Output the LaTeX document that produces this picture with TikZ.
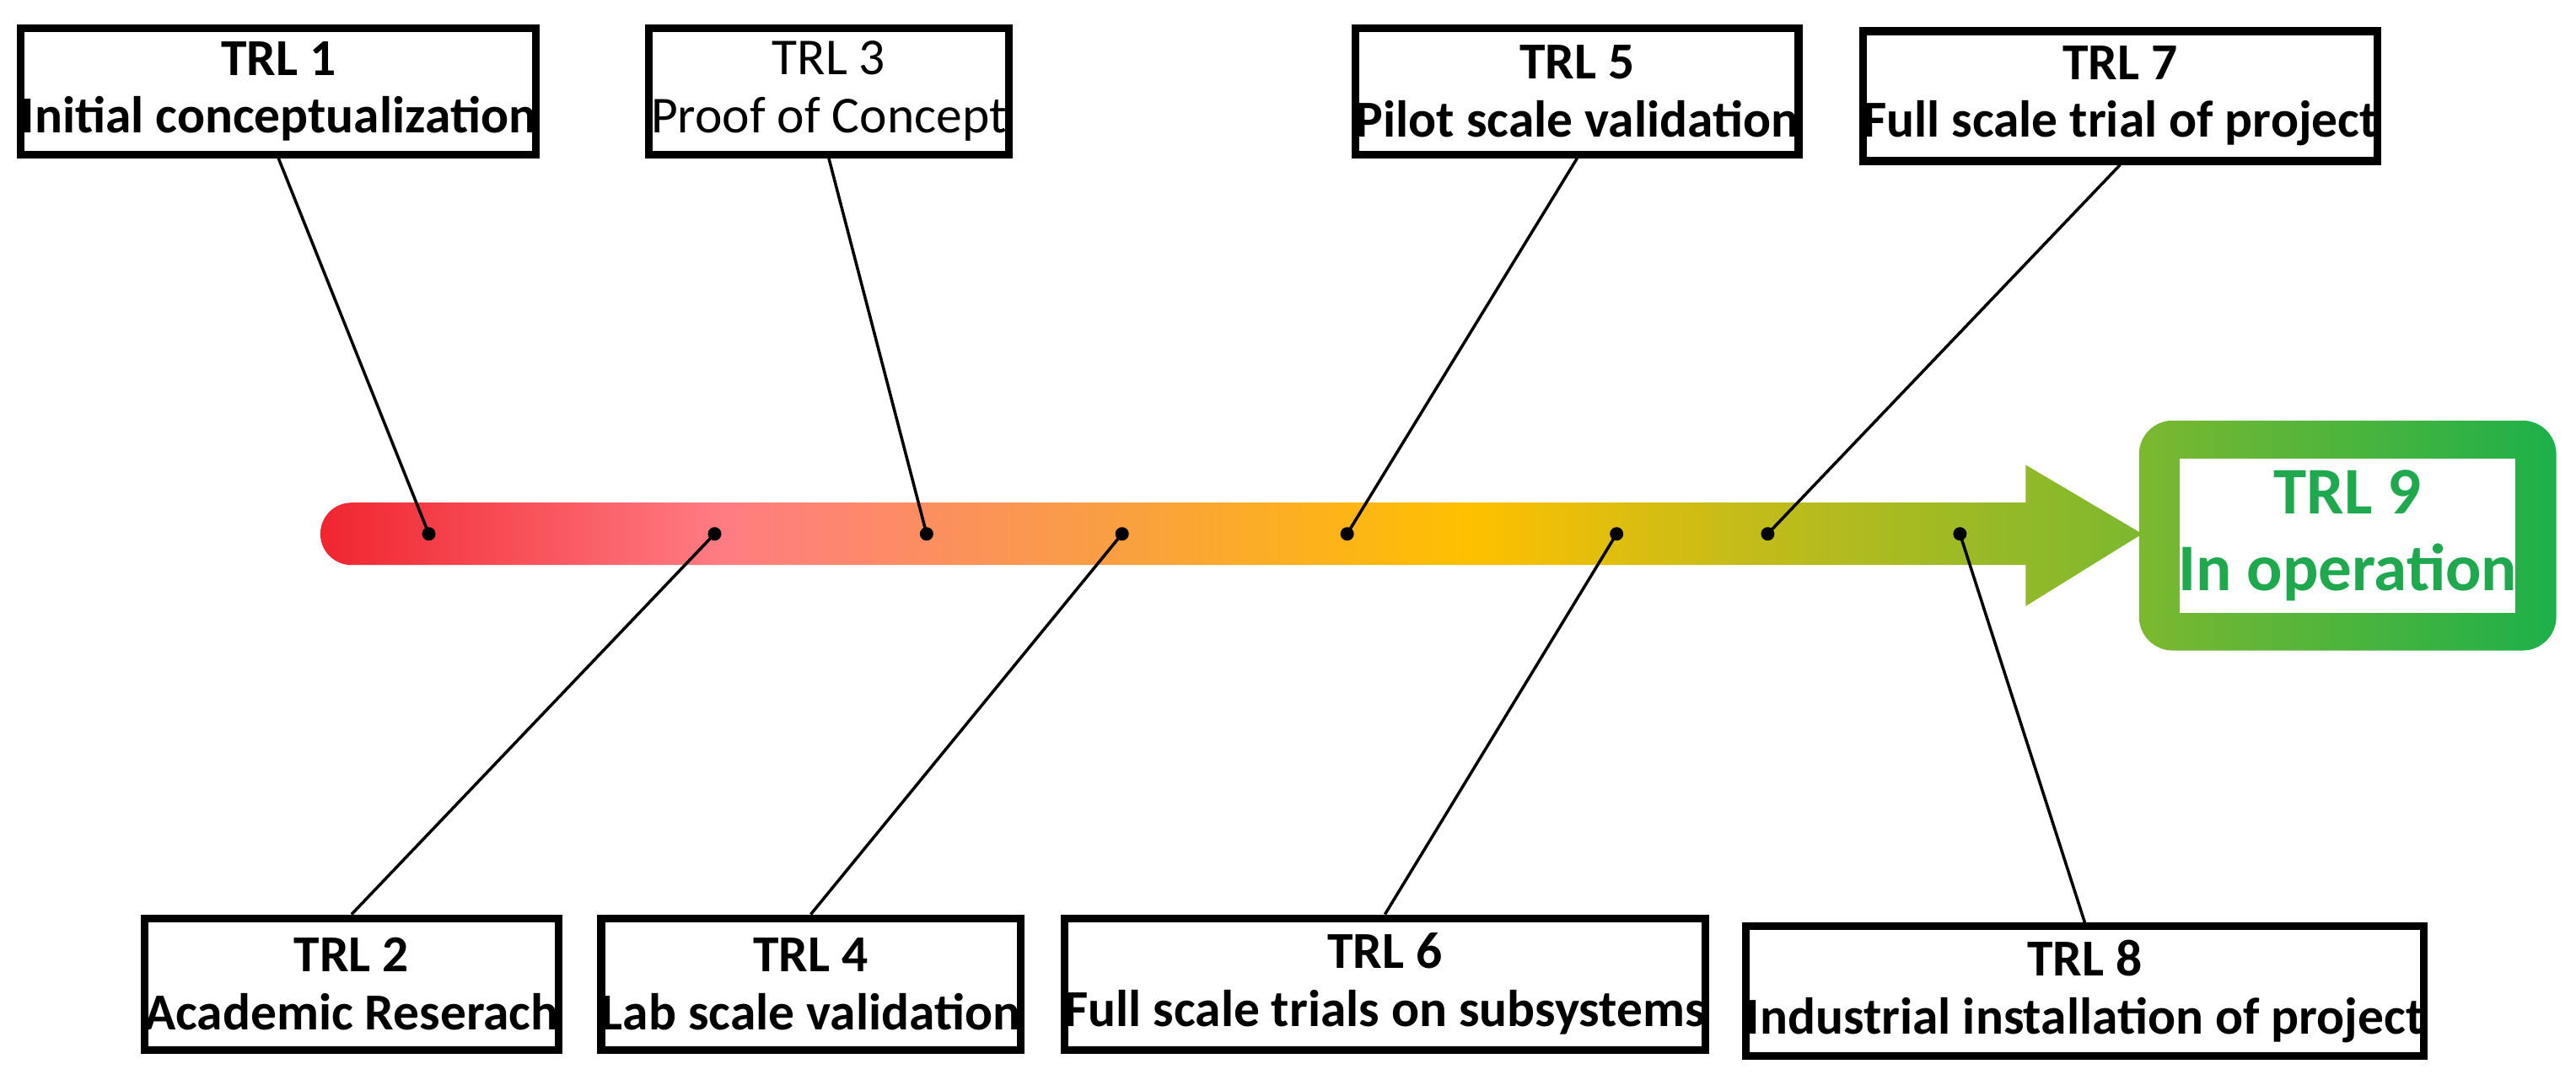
\documentclass[tikz,border=0pt]{standalone}
\usepackage{fontspec}
\setmainfont{Carlito}
\definecolor{cA}{HTML}{F02530}
\definecolor{cB}{HTML}{FF7C82}
\definecolor{cC}{HTML}{F9A040}
\definecolor{cD}{HTML}{FFC000}
\definecolor{cE}{HTML}{C8BC18}
\definecolor{cF}{HTML}{7CB82F}
\definecolor{gA}{HTML}{7CB82F}
\definecolor{gB}{HTML}{1DB04A}
\definecolor{gtxt}{HTML}{1FA84E}
\pgfdeclarehorizontalshading{trlbar}{100bp}{color(0bp)=(cA); color(25bp)=(cA); color(36bp)=(cB); color(47bp)=(cC); color(56.5bp)=(cD); color(63.5bp)=(cE); color(75bp)=(cF); color(100bp)=(cF)}
\pgfdeclarehorizontalshading{trlgreen}{100bp}{color(0bp)=(gA); color(25bp)=(gA); color(75bp)=(gB); color(100bp)=(gB)}
\begin{document}
\begin{tikzpicture}[x=0.01948cm,y=-0.01948cm,
  box/.style={draw,line width=2.6pt,fill=white,inner sep=0pt,align=center,
    font=\fontsize{17.5}{19.5}\selectfont\bfseries},
  conn/.style={line width=1pt},
  dot/.style={fill=black}]
\useasboundingbox (0,0) rectangle (1568,657);
% bar
\shade[shading=trlbar] (214,306) -- (1233,306) -- (1233,283) -- (1304,325) -- (1233,369) -- (1233,344) -- (214,344) arc[start angle=90,end angle=270,radius=19] -- cycle;
% TRL9
\shade[shading=trlgreen,rounded corners=0.4cm] (1302,256) rectangle (1556,396);
\fill[white] (1327,279) rectangle (1531,373);
\node[text=gtxt,font=\fontsize{22.5}{26}\selectfont\bfseries,align=center] (b9) at (1429,326) {TRL 9\\In operation};
% dots
\foreach \i/\x in {1/261,2/435,3/564,4/683,5/820,6/984,7/1076,8/1193}{
  \coordinate (d\i) at (\x,325);
}
% boxes
\node[box,minimum width=6.02cm,minimum height=1.5cm] (b1) at (169.5,55.5) {TRL 1\\Initial conceptualization};
\node[box,minimum width=4.27cm,minimum height=1.5cm,font=\fontsize{17.5}{19.5}\selectfont] (b3) at (504.5,55.5) {TRL 3\\Proof of Concept};
\node[box,minimum width=5.22cm,minimum height=1.5cm] (b5) at (960,55.5) {TRL 5\\Pilot scale validation};
\node[box,minimum width=6.02cm,minimum height=1.54cm] (b7) at (1290.5,58.5) {TRL 7\\Full scale trial of project};
\node[box,minimum width=4.91cm,minimum height=1.56cm] (b2) at (214,599) {TRL 2\\Academic Reserach};
\node[box,minimum width=4.97cm,minimum height=1.56cm] (b4) at (493.5,599) {TRL 4\\Lab scale validation};
\node[box,minimum width=7.56cm,minimum height=1.56cm] (b6) at (843,599) {TRL 6\\Full scale trials on subsystems};
\node[box,minimum width=7.83cm,minimum height=1.54cm] (b8) at (1269,603.5) {TRL 8\\Industrial installation of project};
% connectors
\draw[conn] (d1) -- (b1.south);
\draw[conn] (d3) -- (b3.south);
\draw[conn] (d5) -- (b5.south);
\draw[conn] (d7) -- (b7.south);
\draw[conn] (d2) -- (b2.north);
\draw[conn] (d4) -- (b4.north);
\draw[conn] (d6) -- (b6.north);
\draw[conn] (d8) -- (b8.north);
\foreach \i in {1,...,8}{\fill[dot] (d\i) circle[radius=0.08cm];}
\end{tikzpicture}
\end{document}
